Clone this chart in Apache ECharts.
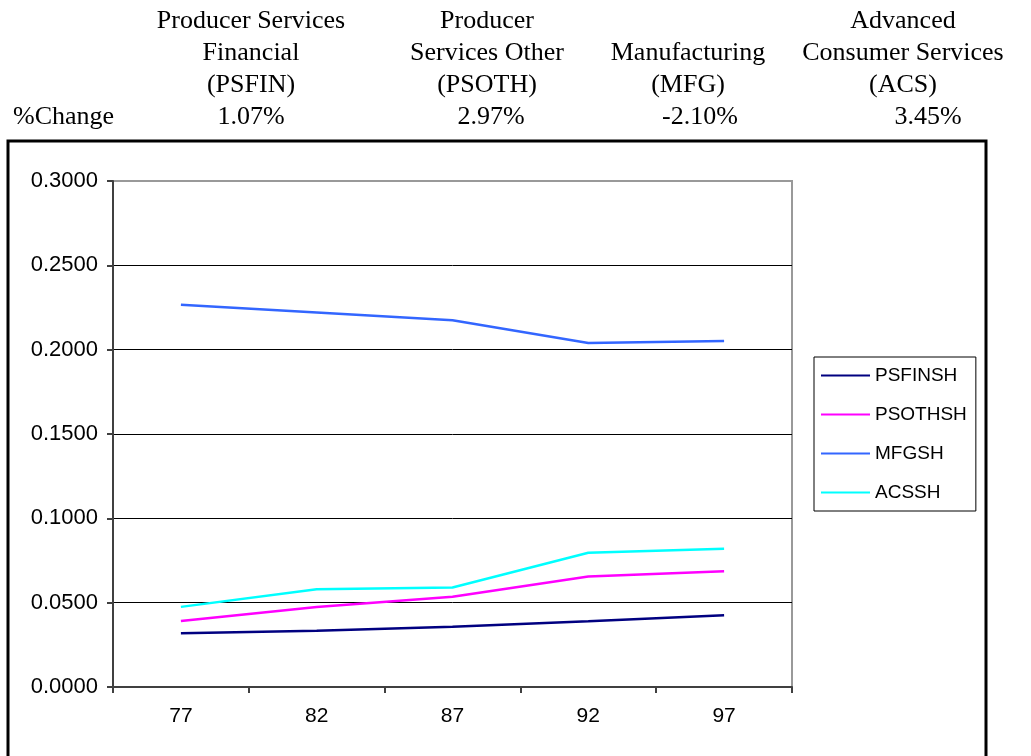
<!DOCTYPE html>
<html>
<head>
<meta charset="utf-8">
<script src="https://cdn.jsdelivr.net/npm/echarts@6/dist/echarts.min.js"></script>
<style>
  html, body { margin: 0; padding: 0; background: #fff; }
  #main { width: 1031px; height: 756px; }
</style>
</head>
<body>
<div id="main"></div>
<script>
// years on the x axis
var years = ["77", "82", "87", "92", "97"];
var seriesNames = ["PSFINSH", "PSOTHSH", "MFGSH", "ACSSH"];
var psfinsh = [0.0319, 0.0333, 0.0357, 0.0390, 0.0426];
var psothsh = [0.0392, 0.0475, 0.0535, 0.0655, 0.0687];
var mfgsh = [0.2266, 0.2220, 0.2175, 0.2040, 0.2052];
var acssh = [0.0475, 0.0580, 0.0590, 0.0796, 0.0820];
// header table above the chart
var headers = [
  ["Producer Services", "Financial", "(PSFIN)"],
  ["Producer", "Services Other", "(PSOTH)"],
  ["Manufacturing", "(MFG)"],
  ["Advanced", "Consumer Services", "(ACS)"]
];
var changeLabel = "%Change";
var pctChange = ["1.07%", "2.97%", "-2.10%", "3.45%"];

var headerX = [251, 487, 688, 903];
var pctX = [251, 491, 700, 928];
var serifFont = "26px 'Liberation Serif', 'Times New Roman', serif";

var graphics = [];
headers.forEach(function (lines, i) {
  lines.forEach(function (line, j) {
    var row = 3 - lines.length + j; // bottom aligned
    graphics.push({
      type: "text",
      x: headerX[i],
      y: 21 + row * 32,
      style: { text: line, font: serifFont, fill: "#000", align: "center", verticalAlign: "middle" }
    });
  });
});
graphics.push({
  type: "text", x: 13, y: 117,
  style: { text: changeLabel, font: serifFont, fill: "#000", align: "left", verticalAlign: "middle" }
});
pctChange.forEach(function (p, i) {
  graphics.push({
    type: "text", x: pctX[i], y: 117,
    style: { text: p, font: serifFont, fill: "#000", align: "center", verticalAlign: "middle" }
  });
});
// outer chart frame
graphics.push({
  type: "rect", z: -1,
  shape: { x: 8, y: 141, width: 978, height: 620 },
  style: { fill: "none", stroke: "#000", lineWidth: 3 }
});

var chart = echarts.init(document.getElementById("main"));
var axisFont = "'Liberation Sans', Arial, sans-serif";

var option = {
  animation: false,
  color: ["#000080", "#ff00ff", "#3366ff", "#00ffff"],
  graphic: graphics,
  grid: {
    left: 113,
    top: 181,
    right: 239,
    bottom: 69,
    show: true,
    borderColor: "#999",
    borderWidth: 2,
    backgroundColor: "#fff"
  },
  legend: {
    orient: "vertical",
    left: 814,
    top: 357,
    data: seriesNames,
    icon: "rect",
    itemWidth: 49,
    itemHeight: 2,
    itemGap: 20,
    padding: [9, 9, 9, 7],
    borderColor: "#000",
    borderWidth: 1,
    textStyle: { fontFamily: axisFont, fontSize: 19, color: "#000" }
  },
  xAxis: {
    type: "category",
    data: years,
    boundaryGap: true,
    axisLine: { lineStyle: { color: "#404040", width: 2 } },
    axisTick: { show: true, length: 6, lineStyle: { color: "#404040", width: 2 } },
    axisLabel: { fontFamily: axisFont, fontSize: 21, color: "#000", margin: 19 }
  },
  yAxis: {
    type: "value",
    min: 0,
    max: 0.3,
    interval: 0.05,
    axisLine: { show: true, lineStyle: { color: "#404040", width: 2 } },
    axisTick: { show: true, length: 6, lineStyle: { color: "#404040", width: 2 } },
    axisLabel: {
      fontFamily: axisFont, fontSize: 22, color: "#000", margin: 15,
      formatter: function (v) { return v.toFixed(4); }
    },
    splitLine: { show: true, showMinLine: false, showMaxLine: false, lineStyle: { color: "#000", width: 1 } }
  },
  series: [
    { name: seriesNames[0], type: "line", data: psfinsh, symbol: "none", lineStyle: { width: 2.5 } },
    { name: seriesNames[1], type: "line", data: psothsh, symbol: "none", lineStyle: { width: 2.5 } },
    { name: seriesNames[2], type: "line", data: mfgsh, symbol: "none", lineStyle: { width: 2.5 } },
    { name: seriesNames[3], type: "line", data: acssh, symbol: "none", lineStyle: { width: 2.5 } }
  ]
};

chart.setOption(option);
window.addEventListener("resize", function () { chart.resize(); });
</script>
</body>
</html>
